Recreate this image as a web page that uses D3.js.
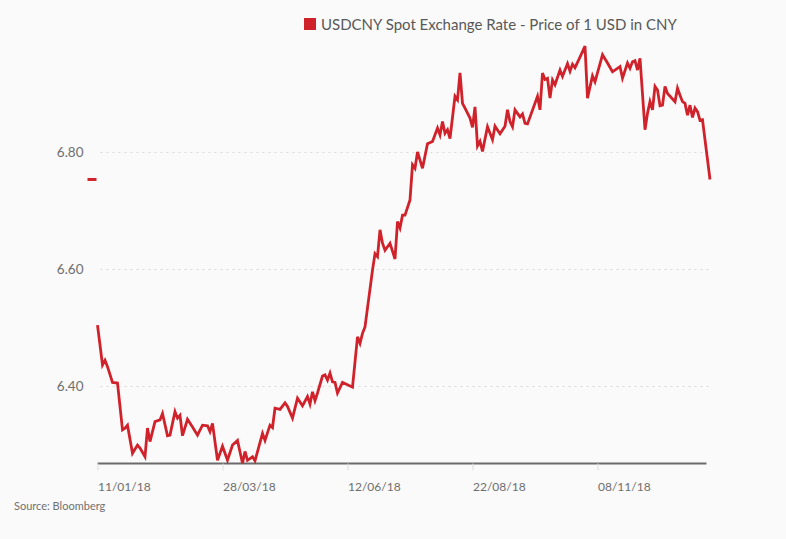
<!DOCTYPE html>
<html>
<head>
<meta charset="utf-8">
<script src="https://cdn.jsdelivr.net/npm/d3@7"></script>
<style>
  html, body { margin: 0; padding: 0; background: #fafafa; }
  svg { display: block; }
  text { font-family: Lato, "Open Sans", sans-serif; }
</style>
</head>
<body>
<svg id="chart" width="786" height="539"></svg>
<script>
// ---- data (trading-day index, USDCNY rate) ----
const dayIndex = [0,2,3,4,6,8,10,11,12,14,16,17,19,20,21,23,25,26,28,29,31,32,33,34,36,38,40,42,44,45,46,48,50,52,54,56,58,59,60,62,63,66,67,69,70,
  71,73,75,76,78,80,82,84,85,86,87,88,90,91,92,93,94,95,96,98,100,102,104,105,106,107,110,111,112,113,114,115,117,119,120,121,122,123,125,
  126,127,128,130,132,134,136,137,138,139,140,141,143,144,145,146,147,149,150,151,152,153,154,156,158,159,161,163,164,165,166,167,169,170,171,172,
  176,177,178,179,180,181,182,183,185,186,188,189,190,191,193,195,196,198,199,202,204,206,209,210,212,213,214,215,216,217,
  219,220,221,222,223,224,225,226,227,228,231,232,233,234,235,236,237,238,239,240,241,242,245];
const rates = [6.504,6.436,6.444,6.433,6.406,6.405,6.325,6.328,6.333,6.285,6.299,6.294,6.279,6.328,6.305,6.339,6.342,6.353,6.315,6.316,6.356,6.345,6.350,6.315,6.343,6.330,6.316,6.333,6.332,6.322,6.336,6.273,6.297,6.273,6.299,6.307,6.268,6.288,6.273,6.279,6.272,6.319,6.307,6.333,6.329,
  6.362,6.360,6.371,6.365,6.345,6.379,6.366,6.382,6.369,6.390,6.375,6.388,6.417,6.419,6.410,6.422,6.407,6.406,6.388,6.406,6.402,6.398,6.484,6.473,6.490,6.501,6.598,6.626,6.621,6.667,6.644,6.632,6.644,6.617,6.681,6.670,6.692,6.692,6.718,
  6.778,6.772,6.800,6.772,6.814,6.818,6.841,6.829,6.852,6.832,6.838,6.823,6.895,6.889,6.935,6.883,6.875,6.858,6.842,6.877,6.810,6.818,6.801,6.843,6.821,6.844,6.831,6.844,6.872,6.852,6.843,6.872,6.860,6.865,6.849,6.848,
  6.895,6.872,6.935,6.924,6.926,6.892,6.923,6.915,6.940,6.929,6.951,6.938,6.950,6.944,6.962,6.981,6.892,6.930,6.920,6.966,6.952,6.937,6.946,6.926,6.952,6.943,6.954,6.956,6.940,6.960,
  6.838,6.866,6.886,6.872,6.912,6.906,6.879,6.880,6.912,6.900,6.886,6.909,6.897,6.886,6.883,6.863,6.880,6.859,6.875,6.869,6.854,6.855,6.753];
const xTickIndex = [0, 50, 100, 150, 200];
const xTickLabels = ["11/01/18", "28/03/18", "12/06/18", "22/08/18", "08/11/18"];
const yTickValues = [6.40, 6.60, 6.80];
const seriesName = "USDCNY Spot Exchange Rate - Price of 1 USD in CNY";
const sourceText = "Source: Bloomberg";

// ---- layout ----
const svg = d3.select("#chart");
const plotLeft = 97.5, plotRight = 706.5, plotTop = 40.8, plotBottom = 463.5;
const red = "#d0222b";

const x = d3.scaleLinear().domain([0, 243.6]).range([plotLeft, plotRight]);
const y = d3.scaleLinear().domain([6.2675, 6.99]).range([plotBottom, plotTop]);

// gridlines
svg.append("g")
  .attr("transform", `translate(${plotLeft + 3},0)`)
  .call(d3.axisLeft(y).tickValues(yTickValues).tickSize(-(plotRight - plotLeft + 2)).tickFormat(""))
  .call(g => g.select(".domain").remove())
  .call(g => g.selectAll(".tick line").attr("stroke", "#d9d9d9").attr("stroke-dasharray", "2,4"));

// y labels
svg.append("g")
  .attr("transform", `translate(${plotLeft},0)`)
  .call(d3.axisLeft(y).tickValues(yTickValues).tickSize(0).tickPadding(14).tickFormat(d3.format(".2f")))
  .call(g => g.select(".domain").remove())
  .call(g => g.selectAll(".tick text").attr("fill", "#6e6e6e").style("font-size", "13.5px"));

// x axis
svg.append("g")
  .attr("transform", `translate(0,${plotBottom})`)
  .call(d3.axisBottom(x).tickValues(xTickIndex).tickSize(7).tickPadding(12)
    .tickFormat((d, i) => xTickLabels[i]))
  .call(g => g.select(".domain").attr("stroke", "#6b6b6b").attr("stroke-width", 2.2).attr("d", `M${plotLeft},0H${plotRight}`))
  .call(g => g.selectAll(".tick line").attr("stroke", "#dddddd"))
  .call(g => g.selectAll(".tick text").attr("fill", "#6e6e6e").attr("text-anchor", "start")
    .style("font-size", "12px"));

// line
const data = dayIndex.map((d, i) => ({ d, v: rates[i] }));
svg.append("path")
  .datum(data)
  .attr("fill", "none")
  .attr("stroke", red)
  .attr("stroke-width", 2.8)
  .attr("stroke-linejoin", "miter")
  .attr("d", d3.line().x(p => x(p.d)).y(p => y(p.v)));

// last-value marker on the left
const last = rates[rates.length - 1];
svg.append("rect")
  .attr("x", plotLeft - 10).attr("y", y(last) - 1.5)
  .attr("width", 9).attr("height", 3)
  .attr("fill", red);

// legend
const legend = svg.append("g");
legend.append("rect").attr("x", 304).attr("y", 18).attr("width", 12).attr("height", 12).attr("fill", red);
legend.append("text").attr("x", 321).attr("y", 30)
  .attr("fill", "#585858").style("font-size", "15px").text(seriesName);

// source
svg.append("text").attr("x", 14).attr("y", 510)
  .attr("fill", "#707070").style("font-size", "11px").text(sourceText);
</script>
</body>
</html>
